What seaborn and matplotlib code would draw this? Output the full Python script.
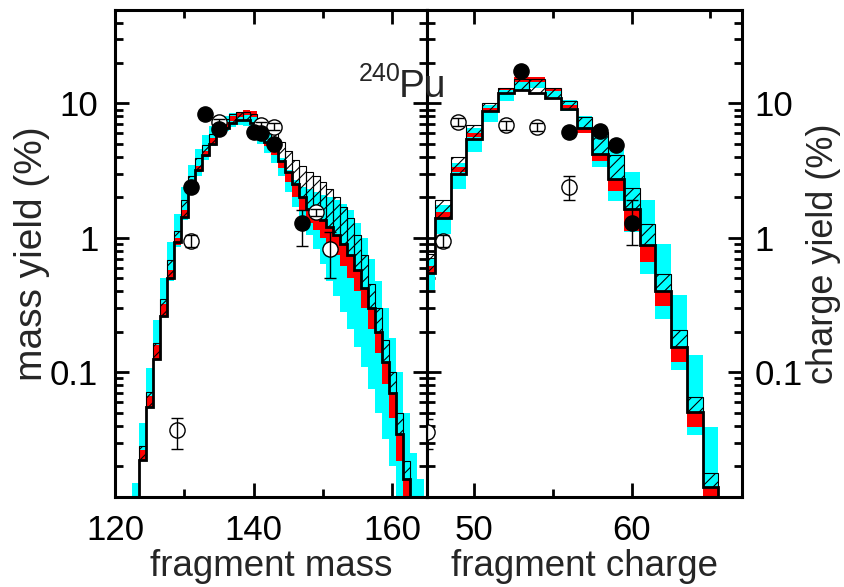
import numpy as np
import pandas as pd
import seaborn as sns
import matplotlib.pyplot as plt
from matplotlib.ticker import FixedLocator, LogLocator, NullFormatter, FuncFormatter

# ---------------- fragment mass (left) ----------------
mass = np.arange(123, 165)
nan = np.nan
m_line = [nan, 0.0222, 0.055, 0.126, 0.26, 0.50, 0.93, 1.43, 2.4, 3.2, 4.1, 5.0, 5.9, 6.6, 7.2, 7.5,
          7.5, 7.2, 5.9, 5.2, 4.5, 3.7, 3.1, 2.5, 2.0, 1.65, 1.5, 1.35, 1.2, 1.05, 0.9, 0.75, 0.58,
          0.42, 0.3, 0.2, 0.12, 0.07, 0.035, 0.016, nan, nan]
m_hatch = [nan, 0.0282, 0.071, 0.165, 0.353, 0.68, 1.12, 1.9, 2.9, 3.9, 4.9, 5.9, 6.8, 7.6, 8.3, 8.6,
           8.7, 8.4, 7.2, 6.6, 6.0, 5.2, 4.4, 3.8, 3.4, 3.1, 2.9, 2.6, 2.3, 2.0, 1.7, 1.4, 1.05,
           0.75, 0.45, 0.3, 0.175, 0.1, 0.05, 0.022, nan, nan]
m_red_lo = [nan, 0.0219, 0.0553, 0.126, 0.261, 0.49, 0.88, 1.4, 2.3, 3.1, 4.0, 5.0, 5.9, 6.7, 7.4, 7.9,
            8.2, 7.9, 5.5, 4.8, 4.1, 3.3, 2.6, 2.0, 1.6, 1.3, 1.15, 1.0, 0.88, 0.75, 0.62, 0.5, 0.4,
            0.3, 0.21, 0.14, 0.082, 0.046, 0.022, 0.0118, nan, nan]
m_red_hi = [nan, 0.0263, 0.0665, 0.159, 0.321, 0.575, 1.0, 1.6, 2.6, 3.4, 4.4, 5.5, 6.5, 7.3, 8.0, 8.7,
            9.0, 8.8, 5.9, 5.2, 4.5, 3.7, 3.1, 2.5, 2.0, 1.65, 1.5, 1.35, 1.2, 1.05, 0.9, 0.75, 0.58,
            0.42, 0.3, 0.2, 0.12, 0.07, 0.035, 0.016, nan, nan]
m_cyan_lo = [0.005, 0.0219, 0.055, 0.126, 0.26, 0.48, 0.85, 1.35, 2.1, 2.9, 3.8, 4.8, 5.6, 6.2, 6.7, 6.9,
             6.8, 6.5, 5.0, 4.3, 3.6, 2.9, 2.2, 1.7, 1.35, 1.05, 0.82, 0.64, 0.48, 0.37, 0.28, 0.21, 0.155,
             0.11, 0.075, 0.05, 0.032, 0.02, 0.011, 0.005, 0.005, 0.005]
m_cyan_hi = [0.015, 0.042, 0.107, 0.244, 0.50, 0.93, 1.5, 2.4, 3.5, 4.6, 5.8, 6.8, 7.6, 8.1, 8.5, 8.7,
             8.8, 8.4, 6.8, 6.0, 5.0, 3.9, 3.2, 2.7, 2.4, 2.3, 2.2, 2.1, 2.0, 1.9, 1.8, 1.6, 1.3,
             1.0, 0.7, 0.48, 0.3, 0.18, 0.1, 0.05, 0.025, 0.016]

# ---------------- fragment charge (right) ----------------
charge = np.arange(47, 66)
z_line = [0.545, 1.40, 3.0, 5.47, 8.73, 11.9, 12.5, 12.0, 10.9, 9.1, 6.6, 4.2, 2.75, 1.63, 0.88,
          0.40, 0.153, 0.0508, 0.0141]
z_hatch = [0.76, 1.90, 3.99, 6.87, 10.07, 13.1, 15.3, 15.3, 13.1, 10.5, 7.9, 6.1, 4.1, 2.33, 1.26,
           0.54, 0.206, 0.0656, 0.0177]
z_red_lo = [0.545, 1.40, 3.09, 5.6, 8.8, 12.6, 14.5, 14.5, 12.3, 9.2, 6.0, 3.7, 2.25, 1.12, 0.66,
            0.31, 0.119, 0.039, 0.0118]
z_red_hi = [0.62, 1.55, 3.37, 6.0, 9.3, 13.1, 15.6, 15.6, 13.1, 9.8, 6.6, 4.2, 2.75, 1.63, 0.88,
            0.40, 0.153, 0.0508, 0.0137]
z_cyan_lo = [0.41, 1.07, 2.3, 4.35, 7.3, 10.5, 12.5, 13.0, 11.2, 8.8, 6.0, 3.35, 1.88, 1.1, 0.54,
             0.25, 0.104, 0.034, 0.005]
z_cyan_hi = [0.70, 1.75, 3.6, 6.6, 9.8, 12.8, 14.6, 14.6, 12.5, 10.6, 8.1, 6.1, 4.8, 3.1, 1.9,
             0.905, 0.374, 0.134, 0.039]

# ---------------- data points ----------------
m_full_x = [131, 133, 135, 140, 141, 143, 147]
m_full_y = [2.4, 8.3, 6.5, 6.1, 6.0, 5.0, 1.28]
m_full_lo = [2.4, 8.3, 6.5, 6.1, 6.0, 5.0, 0.87]
m_full_hi = [2.4, 8.3, 6.5, 6.1, 6.0, 5.0, 1.6]
m_open_x = [129, 131, 135, 141, 143, 149, 151]
m_open_y = [0.0375, 0.95, 7.3, 6.9, 6.7, 1.55, 0.83]
m_open_lo = [0.0269, 0.85, 6.9, 6.5, 6.3, 1.45, 0.50]
m_open_hi = [0.0458, 1.05, 7.7, 7.3, 7.1, 1.65, 1.10]

z_full_x = [53, 56, 58, 59, 60]
z_full_y = [17.3, 6.1, 6.2, 4.93, 1.28]
z_full_lo = [17.3, 6.1, 6.2, 4.93, 0.88]
z_full_hi = [17.3, 6.1, 6.2, 4.93, 1.9]
z_open_x = [47, 48, 49, 52, 54, 56]
z_open_y = [0.036, 0.95, 7.3, 6.9, 6.7, 2.39]
z_open_lo = [0.027, 0.85, 6.8, 6.4, 6.2, 1.9]
z_open_hi = [0.045, 1.05, 7.8, 7.4, 7.2, 2.88]

sns.set_theme(style='ticks')
plt.rcParams['font.family'] = ['Liberation Sans', 'DejaVu Sans']
plt.rcParams['hatch.linewidth'] = 0.8

fig = plt.figure(figsize=(8.45, 5.87), dpi=100)
axL = fig.add_axes([0.1361, 0.1533, 0.3692, 0.8305])
axR = fig.add_axes([0.5053, 0.1533, 0.3728, 0.8305])


def draw_bands(ax, x, line, hatch, red_lo, red_hi, cyan_lo, cyan_hi):
    x = np.asarray(x, float)
    line = np.asarray(line, float)
    hatch = np.asarray(hatch, float)
    red_lo = np.asarray(red_lo, float)
    red_hi = np.asarray(red_hi, float)
    cyan_lo = np.asarray(cyan_lo, float)
    cyan_hi = np.asarray(cyan_hi, float)
    ok = ~np.isnan(cyan_lo)
    ax.bar(x[ok], cyan_hi[ok] - cyan_lo[ok], bottom=cyan_lo[ok], width=1.0,
           color='#00ffff', linewidth=0, zorder=1)
    ok = ~np.isnan(red_lo)
    ax.bar(x[ok], red_hi[ok] - red_lo[ok], bottom=red_lo[ok], width=1.0,
           color='#ff0000', linewidth=0, zorder=2)
    ok = ~np.isnan(line)
    ax.bar(x[ok], hatch[ok] - line[ok], bottom=line[ok], width=1.0, facecolor='none',
           edgecolor='black', hatch='///', linewidth=0.8, zorder=3)
    xs = x[ok]
    edges = np.append(xs - 0.5, xs[-1] + 0.5)
    ax.stairs(line[ok], edges, baseline=1e-4, color='black', linewidth=2.0, zorder=4)


def draw_points(ax, fx, fy, flo, fhi, ox, oy, olo, ohi):
    fy = np.asarray(fy); oy = np.asarray(oy)
    sns.scatterplot(x=ox, y=oy, ax=ax, color='white', s=120, edgecolor='black',
                    linewidth=1, zorder=5, legend=False)
    ax.errorbar(ox, oy, yerr=[oy - np.asarray(olo), np.asarray(ohi) - oy], fmt='none',
                ecolor='black', elinewidth=1, capsize=4, zorder=6)
    ax.errorbar(fx, fy, yerr=[fy - np.asarray(flo), np.asarray(fhi) - fy], fmt='none',
                ecolor='black', elinewidth=1, capsize=4, zorder=6)
    sns.scatterplot(x=fx, y=fy, ax=ax, color='black', s=120, edgecolor='black',
                    linewidth=1, zorder=7, legend=False)


draw_bands(axL, mass, m_line, m_hatch, m_red_lo, m_red_hi, m_cyan_lo, m_cyan_hi)
draw_points(axL, m_full_x, m_full_y, m_full_lo, m_full_hi, m_open_x, m_open_y, m_open_lo, m_open_hi)
draw_bands(axR, charge, z_line, z_hatch, z_red_lo, z_red_hi, z_cyan_lo, z_cyan_hi)
draw_points(axR, z_full_x, z_full_y, z_full_lo, z_full_hi, z_open_x, z_open_y, z_open_lo, z_open_hi)

ylab = {0.1: '0.1', 1: '1', 10: '10'}
fmt = FuncFormatter(lambda v, p: ylab.get(round(v, 3), ''))

for ax in (axL, axR):
    ax.set_yscale('log')
    ax.set_ylim(0.0118, 50)
    ax.yaxis.set_major_locator(FixedLocator([0.1, 1, 10]))
    ax.yaxis.set_minor_locator(LogLocator(base=10, subs=np.arange(2, 10)))
    ax.yaxis.set_major_formatter(fmt)
    ax.yaxis.set_minor_formatter(NullFormatter())
    ax.tick_params(which='both', direction='in', top=True, right=True, width=2,
                   labelsize=25, colors='black')
    ax.tick_params(which='major', length=10)
    ax.tick_params(which='minor', length=6)
    ax.tick_params(axis='x', pad=12)
    for s in ax.spines.values():
        s.set_linewidth(2.2)
        s.set_color('black')
    ax.set_facecolor('white')

axL.set_xlim(120, 165)
axL.xaxis.set_major_locator(FixedLocator([120, 140, 160]))
axL.xaxis.set_minor_locator(FixedLocator([130, 150]))
axL.tick_params(axis='y', labelleft=True, labelright=False, pad=12)
axL.set_xlabel('fragment mass', fontsize=26.5, labelpad=2)
axL.set_ylabel('mass yield (%)', fontsize=28, labelpad=0)

axR.set_xlim(47, 67)
axR.xaxis.set_major_locator(FixedLocator([50, 60]))
axR.xaxis.set_minor_locator(FixedLocator([55, 65]))
axR.tick_params(axis='y', labelleft=False, labelright=True, pad=9)
axR.yaxis.set_label_position('right')
axR.set_xlabel('fragment charge', fontsize=26.5, labelpad=2)
axR.set_ylabel('charge yield (%)', fontsize=26, labelpad=2)

fig.text(0.474, 0.862, '240', fontsize=18, ha='right', va='baseline')
fig.text(0.472, 0.835, 'Pu', fontsize=28, ha='left', va='baseline')

fig.savefig('out.png', dpi=100, facecolor='white')
